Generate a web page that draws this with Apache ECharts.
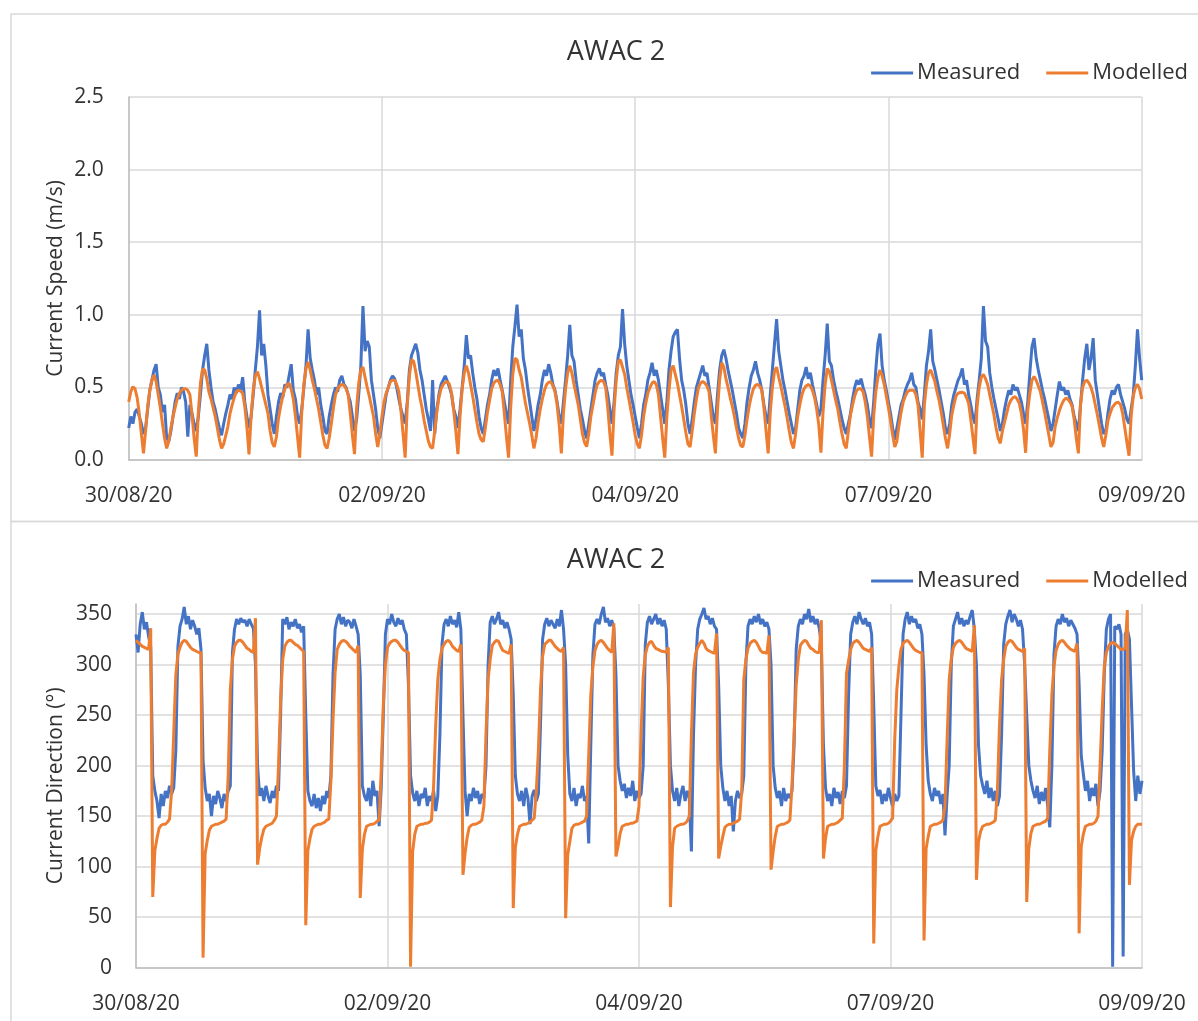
<!DOCTYPE html>
<html><head><meta charset="utf-8">
<script src="https://cdn.jsdelivr.net/npm/echarts@6/dist/echarts.min.js"></script>
<style>html,body{margin:0;padding:0;background:#fff;}#c{width:1198px;height:1021px;}</style>
</head><body><div id="c"></div>
<script>
// time axis: hours since 30/08/20 12:00, one sample every half hour
const stepHours = 0.5;
const xTickLabels = ['30/08/20','02/09/20','04/09/20','07/09/20','09/09/20'];
const speedTicks = [0, 0.5, 1.0, 1.5, 2.0, 2.5];
const dirTicks = [0, 50, 100, 150, 200, 250, 300, 350];

const speedMeasured = [
0.22,0.30,0.25,0.33,0.35,0.30,0.25,0.18,0.22,0.35,0.48,0.55,0.62,0.66,0.50,0.45,0.33,0.38,0.15,0.13,0.20,0.30,0.40,0.46,
0.42,0.50,0.47,0.40,0.16,0.38,0.32,0.25,0.20,0.30,0.45,0.62,0.72,0.80,0.62,0.50,0.40,0.35,0.28,0.22,0.17,0.25,0.32,0.38,
0.45,0.42,0.50,0.46,0.52,0.48,0.57,0.40,0.30,0.22,0.30,0.45,0.62,0.78,1.03,0.72,0.80,0.65,0.45,0.35,0.25,0.18,0.30,0.40,
0.46,0.43,0.52,0.50,0.58,0.66,0.48,0.42,0.30,0.25,0.35,0.50,0.65,0.90,0.70,0.62,0.55,0.45,0.50,0.38,0.30,0.20,0.18,0.30,
0.38,0.45,0.50,0.47,0.55,0.58,0.52,0.50,0.45,0.40,0.30,0.20,0.28,0.45,0.65,1.06,0.75,0.82,0.78,0.55,0.45,0.35,0.22,0.15,
0.25,0.35,0.45,0.50,0.55,0.58,0.56,0.50,0.42,0.35,0.30,0.25,0.40,0.62,0.72,0.76,0.80,0.74,0.62,0.55,0.45,0.35,0.28,0.20,
0.55,0.18,0.35,0.45,0.52,0.55,0.58,0.54,0.50,0.45,0.35,0.30,0.22,0.35,0.50,0.65,0.86,0.70,0.72,0.60,0.50,0.42,0.30,0.22,
0.18,0.28,0.38,0.45,0.55,0.62,0.58,0.63,0.55,0.48,0.40,0.32,0.25,0.55,0.78,0.92,1.07,0.85,0.90,0.70,0.62,0.50,0.40,0.30,
0.20,0.28,0.38,0.45,0.55,0.62,0.58,0.66,0.60,0.52,0.48,0.40,0.30,0.25,0.40,0.55,0.72,0.93,0.72,0.68,0.55,0.45,0.35,0.28,
0.20,0.15,0.25,0.35,0.45,0.55,0.60,0.63,0.58,0.60,0.52,0.45,0.35,0.25,0.40,0.60,0.72,0.78,1.04,0.80,0.65,0.55,0.45,0.38,
0.30,0.22,0.15,0.25,0.38,0.45,0.55,0.60,0.67,0.58,0.62,0.55,0.45,0.35,0.25,0.40,0.62,0.75,0.85,0.88,0.90,0.70,0.55,0.48,
0.38,0.25,0.18,0.28,0.40,0.50,0.55,0.60,0.65,0.58,0.60,0.50,0.40,0.30,0.25,0.45,0.62,0.72,0.76,0.70,0.62,0.55,0.48,0.40,
0.32,0.22,0.18,0.15,0.25,0.40,0.50,0.58,0.62,0.68,0.60,0.55,0.48,0.38,0.30,0.25,0.45,0.62,0.80,0.97,0.75,0.65,0.55,0.48,
0.40,0.32,0.25,0.18,0.22,0.35,0.48,0.55,0.58,0.64,0.56,0.60,0.52,0.45,0.38,0.30,0.35,0.55,0.72,0.94,0.68,0.65,0.55,0.48,
0.42,0.35,0.28,0.22,0.18,0.25,0.32,0.42,0.50,0.55,0.52,0.56,0.50,0.45,0.38,0.28,0.22,0.40,0.62,0.80,0.87,0.65,0.55,0.48,
0.40,0.32,0.22,0.14,0.22,0.30,0.38,0.42,0.48,0.52,0.55,0.60,0.52,0.50,0.40,0.35,0.28,0.45,0.65,0.75,0.90,0.68,0.62,0.55,
0.48,0.40,0.32,0.22,0.18,0.25,0.38,0.45,0.50,0.55,0.58,0.63,0.52,0.55,0.45,0.38,0.30,0.25,0.42,0.55,0.70,1.06,0.82,0.78,
0.60,0.50,0.42,0.35,0.28,0.20,0.25,0.35,0.42,0.48,0.45,0.52,0.48,0.50,0.45,0.40,0.32,0.25,0.40,0.60,0.78,0.84,0.70,0.62,
0.55,0.48,0.42,0.35,0.28,0.20,0.25,0.35,0.45,0.54,0.48,0.50,0.45,0.48,0.42,0.38,0.30,0.25,0.20,0.38,0.55,0.70,0.80,0.62,
0.70,0.84,0.55,0.45,0.35,0.25,0.18,0.20,0.32,0.42,0.48,0.45,0.50,0.52,0.45,0.40,0.35,0.28,0.25,0.35,0.45,0.65,0.90,0.70,
0.55];

const speedModelled = [
0.40,0.47,0.505,0.49,0.43,0.32,0.18,0.046,0.20,0.37,0.48,0.55,0.585,0.54,0.45,0.36,0.25,0.15,0.08,0.13,0.22,0.30,0.36,0.42,
0.46,0.48,0.49,0.49,0.48,0.45,0.31,0.15,0.023,0.33,0.53,0.625,0.62,0.56,0.47,0.42,0.36,0.30,0.22,0.14,0.08,0.11,0.17,0.23,
0.32,0.38,0.43,0.47,0.48,0.475,0.46,0.37,0.23,0.039,0.30,0.48,0.58,0.608,0.56,0.50,0.44,0.38,0.32,0.20,0.12,0.09,0.16,0.29,
0.37,0.44,0.49,0.52,0.528,0.49,0.42,0.30,0.16,0.016,0.33,0.52,0.63,0.675,0.62,0.55,0.49,0.42,0.35,0.26,0.17,0.10,0.08,0.15,
0.25,0.36,0.45,0.49,0.51,0.52,0.515,0.49,0.45,0.32,0.17,0.04,0.36,0.53,0.62,0.64,0.57,0.50,0.44,0.37,0.30,0.18,0.09,0.18,
0.30,0.40,0.46,0.50,0.54,0.55,0.55,0.52,0.47,0.34,0.18,0.016,0.38,0.58,0.69,0.68,0.61,0.52,0.43,0.36,0.27,0.20,0.13,0.09,
0.08,0.20,0.33,0.43,0.49,0.52,0.535,0.54,0.52,0.46,0.34,0.20,0.04,0.30,0.49,0.60,0.65,0.60,0.52,0.44,0.35,0.26,0.18,0.14,
0.126,0.22,0.33,0.41,0.49,0.53,0.545,0.55,0.52,0.47,0.32,0.16,0.016,0.36,0.59,0.70,0.69,0.62,0.57,0.48,0.39,0.32,0.25,0.17,
0.08,0.15,0.26,0.35,0.42,0.48,0.52,0.535,0.54,0.51,0.47,0.38,0.24,0.046,0.32,0.49,0.60,0.65,0.60,0.52,0.45,0.38,0.28,0.18,
0.12,0.092,0.18,0.30,0.38,0.46,0.52,0.54,0.55,0.54,0.50,0.36,0.18,0.03,0.35,0.55,0.68,0.69,0.64,0.59,0.50,0.42,0.34,0.26,
0.17,0.11,0.08,0.17,0.30,0.39,0.46,0.50,0.53,0.54,0.52,0.45,0.30,0.15,0.016,0.30,0.48,0.62,0.65,0.59,0.53,0.45,0.37,0.28,
0.19,0.11,0.09,0.20,0.32,0.42,0.50,0.53,0.54,0.53,0.51,0.47,0.31,0.17,0.046,0.35,0.55,0.67,0.64,0.56,0.50,0.43,0.37,0.30,
0.22,0.15,0.10,0.09,0.17,0.28,0.37,0.44,0.49,0.515,0.52,0.51,0.48,0.36,0.20,0.046,0.33,0.50,0.61,0.64,0.57,0.51,0.44,0.37,
0.29,0.20,0.12,0.08,0.18,0.30,0.38,0.45,0.49,0.51,0.52,0.51,0.48,0.43,0.35,0.24,0.05,0.33,0.52,0.63,0.61,0.55,0.48,0.41,
0.35,0.26,0.18,0.11,0.08,0.20,0.31,0.38,0.44,0.48,0.49,0.49,0.47,0.40,0.30,0.16,0.023,0.30,0.47,0.57,0.62,0.58,0.52,0.44,
0.36,0.27,0.17,0.09,0.13,0.24,0.33,0.40,0.44,0.47,0.48,0.48,0.48,0.45,0.38,0.20,0.016,0.38,0.52,0.60,0.62,0.58,0.54,0.47,
0.41,0.33,0.24,0.15,0.08,0.18,0.31,0.38,0.44,0.46,0.465,0.466,0.46,0.43,0.39,0.28,0.16,0.04,0.37,0.50,0.57,0.59,0.56,0.52,
0.45,0.38,0.31,0.22,0.15,0.115,0.20,0.26,0.32,0.38,0.41,0.43,0.436,0.42,0.39,0.32,0.21,0.05,0.34,0.46,0.55,0.575,0.55,0.51,
0.47,0.40,0.33,0.25,0.17,0.09,0.12,0.23,0.29,0.34,0.38,0.41,0.425,0.42,0.40,0.37,0.28,0.15,0.046,0.38,0.50,0.54,0.55,0.53,
0.50,0.45,0.38,0.31,0.23,0.15,0.09,0.17,0.27,0.32,0.36,0.38,0.395,0.397,0.38,0.32,0.22,0.12,0.03,0.30,0.44,0.50,0.52,0.49,
0.42];

const dirMeasured = [
330,312,340,352,335,342,328,318,190,175,165,148,172,160,175,168,180,172,178,215,318,338,345,357,
340,348,335,344,338,330,336,315,205,178,165,172,150,170,162,175,168,158,172,165,175,180,312,335,
345,340,346,342,344,338,345,340,336,300,200,170,178,165,180,170,163,175,168,180,175,250,345,340,
347,335,342,338,345,336,340,332,338,250,175,165,160,172,158,168,155,170,162,175,168,190,290,335,
345,350,340,347,338,344,342,336,345,338,330,290,180,170,165,178,160,185,170,175,140,178,250,330,
345,340,350,342,338,346,340,344,335,330,280,190,173,165,175,160,172,168,178,160,170,165,175,155,
170,230,320,340,345,338,348,340,344,337,352,335,250,175,150,172,165,178,168,175,162,172,168,200,
300,342,348,340,345,352,340,344,336,342,335,325,270,190,172,165,175,160,178,168,142,170,176,165,
172,240,325,340,346,338,344,340,336,345,338,354,335,300,210,172,165,178,160,172,168,180,165,170,
123,220,310,340,345,340,350,357,342,346,338,344,336,290,200,185,175,182,168,178,170,185,165,175,
168,172,200,320,342,348,340,345,350,340,346,338,344,335,280,200,175,165,178,160,172,180,165,175,
168,115,230,300,335,345,350,356,345,348,340,346,338,335,280,200,178,165,175,160,170,135,165,175,
168,172,190,300,338,345,340,348,342,350,340,345,338,342,335,300,200,178,168,175,160,178,165,172,
168,175,220,315,338,345,340,350,345,355,342,348,340,345,336,320,220,178,165,172,160,178,168,174,
162,175,168,180,270,330,342,348,340,352,345,340,346,338,342,330,260,180,170,176,162,172,165,178,
168,160,172,165,170,250,330,345,352,340,348,342,345,336,340,330,290,220,185,172,165,178,170,175,
162,172,131,170,200,300,338,345,352,340,346,338,344,340,348,354,335,300,220,190,180,172,185,168,
178,165,175,160,170,230,320,340,348,354,342,350,345,338,344,335,300,250,200,185,175,168,180,162,
174,165,178,160,139,200,310,338,345,340,350,342,346,338,344,340,336,330,280,210,192,175,185,165,
178,170,182,160,175,215,290,335,345,350,1,338,335,340,330,11,330,335,325,260,195,165,190,172,
185];

const dirModelled = [
324,322,320,318,317,316,315,336,70,116,128,138,141,142,142,144,147,175,232,290,310,317,322,324,
323,320,317,315,314,313,312,312,10,113,126,136,140,141,142,142,143,144,145,147,190,275,305,318,
322,324,324,322,319,316,315,313,312,346,102,118,129,137,140,141,142,143,146,150,200,265,305,318,
322,324,324,322,320,319,317,315,313,42,116,128,137,140,141,142,142,143,144,146,147,185,245,292,
315,320,323,324,323,321,318,316,314,312,319,69,117,132,140,141,142,142,143,145,146,195,260,300,
317,321,323,324,324,322,319,316,314,313,312,1,115,132,140,141,142,142,143,143,144,146,180,240,
285,305,316,320,323,324,322,318,316,314,313,320,92,113,129,139,141,142,142,143,144,146,160,232,
285,305,319,322,324,323,318,314,313,312,311,320,59,119,132,140,141,142,142,143,144,146,148,175,
215,275,308,320,322,324,324,321,318,316,314,313,317,49,112,125,138,141,142,142,143,144,145,150,
210,270,298,314,320,323,324,322,319,316,314,312,341,110,120,133,140,141,142,142,143,143,144,145,
160,232,288,310,318,322,323,319,316,315,314,313,313,312,317,60,120,138,140,141,142,142,143,145,
150,230,292,310,317,321,324,321,316,314,313,312,311,331,108,120,130,139,141,142,142,143,144,145,
147,175,285,305,316,321,323,324,322,318,314,312,312,311,329,97,115,130,140,141,142,142,143,144,
146,180,232,280,305,319,322,324,323,319,316,315,313,312,312,344,108,128,140,141,142,142,143,144,
146,148,200,291,304,315,321,323,324,322,319,316,315,314,313,317,24,116,130,140,141,142,142,143,
145,148,225,275,298,315,321,323,324,322,319,316,314,313,312,312,27,118,130,140,141,142,142,143,
144,146,160,225,285,306,317,321,323,324,322,319,316,315,314,313,339,87,125,135,140,141,142,142,
143,144,146,175,240,285,305,318,322,324,323,320,317,315,314,313,316,65,118,133,140,141,142,142,
143,144,145,148,215,270,298,314,320,323,324,322,319,317,315,314,313,321,34,120,132,140,141,142,
142,143,145,150,200,255,298,312,318,321,322,321,319,317,315,315,316,354,82,126,135,140,142,142,
142];

const FONT = 'Open Sans';
const TXT = '#333333';
const GRIDC = '#d9d9d9';
const AXC = '#bfbfbf';
const BLUE = '#4472C4';
const ORANGE = '#ED7D31';

function toPairs(arr) { return arr.map((v, i) => [i * stepHours, v]); }

function xAxis(gi) {
  return {
    type: 'value', gridIndex: gi, min: 0, max: 240, interval: 60,
    axisLine: { show: true, onZero: false, lineStyle: { color: AXC, width: 1.5 } },
    axisTick: { show: false },
    splitLine: { show: true, lineStyle: { color: GRIDC, width: 1.5 } },
    axisLabel: {
      margin: 26, color: TXT, fontSize: 21, fontFamily: FONT,
      showMinLabel: true, showMaxLabel: true,
      formatter: v => xTickLabels[Math.round(v / 60)] || ''
    }
  };
}

function legend(top) {
  return {
    top: top, right: 10, padding: 0, icon: 'rect', itemWidth: 42, itemHeight: 3, itemGap: 26,
    data: ['Measured', 'Modelled'],
    textStyle: { fontSize: 22, color: TXT, fontFamily: FONT, padding: [0, 0, 0, -1] }
  };
}

function title(top) {
  return { text: 'AWAC 2', left: 611, top: top, textAlign: 'center',
    textStyle: { fontSize: 27, fontWeight: 'normal', color: TXT, fontFamily: FONT } };
}

const chart = echarts.init(document.getElementById('c'), null, { renderer: 'canvas' });
chart.setOption({
  animation: false,
  backgroundColor: '#ffffff',
  textStyle: { fontFamily: FONT },
  graphic: [
    { type: 'rect', silent: true, shape: { x: 11, y: 14, width: 1300, height: 507.5 },
      style: { fill: 'none', stroke: GRIDC, lineWidth: 1.5 } },
    { type: 'rect', silent: true, shape: { x: 11, y: 521.5, width: 1300, height: 600 },
      style: { fill: 'none', stroke: GRIDC, lineWidth: 1.5 } }
  ],
  title: [title(34), title(542)],
  legend: [legend(62), legend(570)],
  grid: [
    { left: 128.7, right: 56.3, top: 97, bottom: 561 },
    { left: 136, right: 56, top: 604, bottom: 53.3 }
  ],
  xAxis: [xAxis(0), xAxis(1)],
  yAxis: [
    {
      type: 'value', gridIndex: 0,
      min: speedTicks[0], max: speedTicks[speedTicks.length - 1], interval: speedTicks[1] - speedTicks[0],
      name: 'Current Speed (m/s)', nameLocation: 'middle', nameGap: 62, nameMoveOverlap: false,
      nameTextStyle: { fontSize: 21, color: TXT, fontFamily: FONT },
      axisLine: { show: true, lineStyle: { color: AXC, width: 1.5 } },
      axisTick: { show: false },
      splitLine: { show: true, lineStyle: { color: GRIDC, width: 1.5 } },
      axisLabel: { margin: 25, color: TXT, fontSize: 21, fontFamily: FONT, formatter: v => v.toFixed(1) }
    },
    {
      type: 'value', gridIndex: 1,
      min: dirTicks[0], max: 360, interval: dirTicks[1] - dirTicks[0],
      name: 'Current Direction (°)', nameLocation: 'middle', nameGap: 69, nameMoveOverlap: false,
      nameTextStyle: { fontSize: 21, color: TXT, fontFamily: FONT },
      axisLine: { show: true, lineStyle: { color: AXC, width: 1.5 } },
      axisTick: { show: false },
      splitLine: { show: true, showMaxLine: false, lineStyle: { color: GRIDC, width: 1.5 } },
      axisLabel: { margin: 24, color: TXT, fontSize: 21, fontFamily: FONT, showMaxLabel: false,
        formatter: v => (dirTicks.indexOf(v) >= 0 ? String(v) : '') }
    }
  ],
  series: [
    { name: 'Measured', type: 'line', xAxisIndex: 0, yAxisIndex: 0, data: toPairs(speedMeasured),
      symbol: 'none', showSymbol: false, lineStyle: { color: BLUE, width: 3 }, itemStyle: { color: BLUE }, z: 2 },
    { name: 'Modelled', type: 'line', xAxisIndex: 0, yAxisIndex: 0, data: toPairs(speedModelled),
      symbol: 'none', showSymbol: false, lineStyle: { color: ORANGE, width: 3 }, itemStyle: { color: ORANGE }, z: 3 },
    { name: 'Measured', type: 'line', xAxisIndex: 1, yAxisIndex: 1, data: toPairs(dirMeasured),
      symbol: 'none', showSymbol: false, lineStyle: { color: BLUE, width: 3 }, itemStyle: { color: BLUE }, z: 2 },
    { name: 'Modelled', type: 'line', xAxisIndex: 1, yAxisIndex: 1, data: toPairs(dirModelled),
      symbol: 'none', showSymbol: false, lineStyle: { color: ORANGE, width: 3 }, itemStyle: { color: ORANGE }, z: 3 }
  ]
});
</script></body></html>
